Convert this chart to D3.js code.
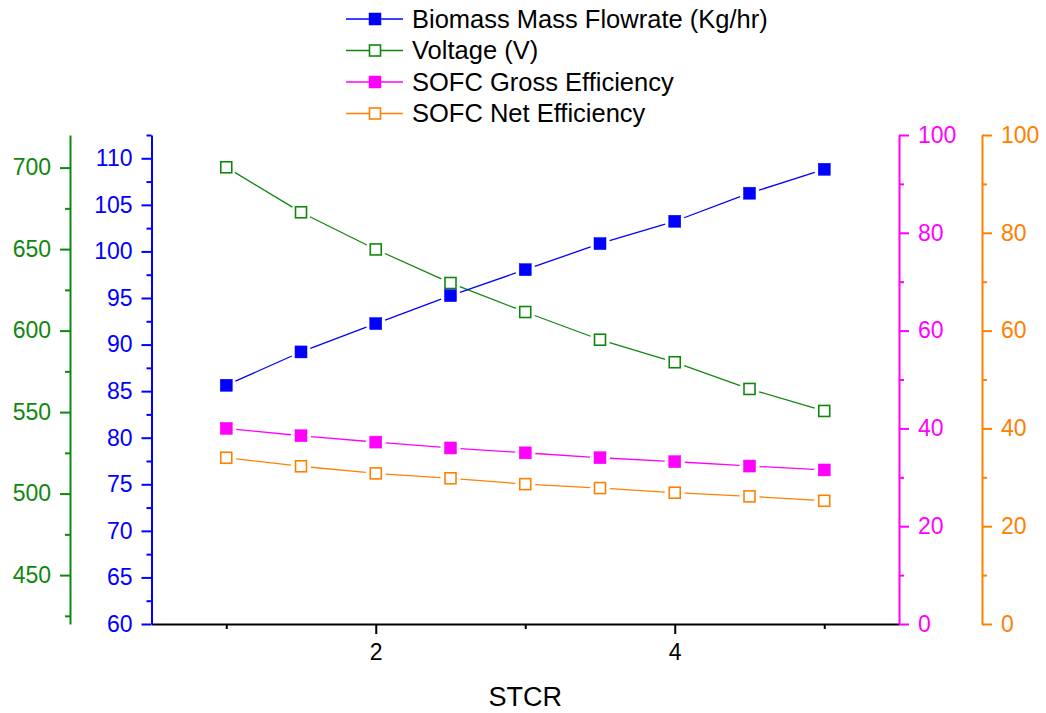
<!DOCTYPE html>
<html>
<head>
<meta charset="utf-8">
<script src="https://cdn.jsdelivr.net/npm/d3@7"></script>
<style>
  html, body { margin: 0; padding: 0; background: #fff; }
  svg { display: block; font-family: "Liberation Sans", Arial, sans-serif; }
</style>
</head>
<body>
<svg id="chart" width="1046" height="713"></svg>
<script>
// STCR values (x)
const stcr = [1, 1.5, 2, 2.5, 3, 3.5, 4, 4.5, 5];
// Series values
const biomassFlow = [85.63, 89.21, 92.25, 95.25, 98.04, 100.84, 103.24, 106.25, 108.82];
const voltage = [700.2, 672.6, 649.8, 629.2, 611.4, 594.4, 580.6, 564.2, 550.7];
const grossEff = [40.0, 38.5, 37.2, 36.0, 35.0, 34.0, 33.2, 32.3, 31.5];
const netEff = [34.0, 32.25, 30.8, 29.8, 28.6, 27.8, 26.85, 26.1, 25.2];

// Tick labels
const xTicks = [2, 4];
const biomassTicks = [60, 65, 70, 75, 80, 85, 90, 95, 100, 105, 110];
const voltageTicks = [450, 500, 550, 600, 650, 700];
const effTicks = [0, 20, 40, 60, 80, 100];

const legendLabels = ["Biomass Mass Flowrate (Kg/hr)", "Voltage (V)", "SOFC Gross Efficiency", "SOFC Net Efficiency"];

const BLUE = "#0000ff", GREEN = "#0f870f", MAGENTA = "#ff00ff", ORANGE = "#ff8000";

const svg = d3.select("#chart");
const plotTop = 135, plotBottom = 624;

const x = d3.scaleLinear().domain([0.5, 5.5]).range([151.5, 899]);
const yBio = d3.scaleLinear().domain([60, 112.5]).range([plotBottom, plotTop]);
const yVolt = d3.scaleLinear().domain([420, 720]).range([plotBottom, plotTop]);
const yEff = d3.scaleLinear().domain([0, 100]).range([plotBottom, plotTop]);

function styleAxis(g, color, fontSize) {
  g.select(".domain").attr("stroke", color).attr("stroke-width", 2);
  g.selectAll(".tick line").attr("stroke", color).attr("stroke-width", 2);
  g.selectAll(".tick text").attr("fill", color).attr("font-size", fontSize)
    .attr("font-family", "Liberation Sans, Arial, sans-serif");
}

function minorAxis(axisFn, scale, values, transformAttr, color) {
  const g = svg.append("g").attr("transform", transformAttr);
  g.call(axisFn(scale).tickValues(values).tickSize(5).tickFormat(""));
  g.select(".domain").remove();
  g.selectAll(".tick line").attr("stroke", color).attr("stroke-width", 2);
}

// X axis
const gx = svg.append("g").attr("transform", `translate(0,${plotBottom})`)
  .call(d3.axisBottom(x).tickValues(xTicks).tickSize(10).tickSizeOuter(0).tickPadding(10).tickFormat(d3.format("d")));
styleAxis(gx, "#000", 23);
minorAxis(d3.axisBottom, x, [1, 3, 5], `translate(0,${plotBottom})`, "#000");

svg.append("text").attr("x", x(3)).attr("y", 706).attr("text-anchor", "middle")
  .attr("font-size", 27).text("STCR");

// Biomass axis (blue)
const gBio = svg.append("g").attr("transform", `translate(${x(0.5)},0)`)
  .call(d3.axisLeft(yBio).tickValues(biomassTicks).tickSize(10).tickSizeOuter(0).tickPadding(9));
styleAxis(gBio, BLUE, 23);
minorAxis(d3.axisLeft, yBio, d3.range(62.5, 113, 5), `translate(${x(0.5)},0)`, BLUE);

// Voltage axis (green)
const gVolt = svg.append("g").attr("transform", "translate(70,0)")
  .call(d3.axisLeft(yVolt).tickValues(voltageTicks).tickSize(10).tickSizeOuter(0).tickPadding(9));
styleAxis(gVolt, GREEN, 23);
minorAxis(d3.axisLeft, yVolt, d3.range(425, 720, 50), "translate(70,0)", GREEN);

// Gross efficiency axis (magenta)
const gGross = svg.append("g").attr("transform", `translate(${x(5.5)},0)`)
  .call(d3.axisRight(yEff).tickValues(effTicks).tickSize(10).tickSizeOuter(0).tickPadding(9));
styleAxis(gGross, MAGENTA, 23);
minorAxis(d3.axisRight, yEff, d3.range(10, 100, 20), `translate(${x(5.5)},0)`, MAGENTA);

// Net efficiency axis (orange)
const gNet = svg.append("g").attr("transform", "translate(982,0)")
  .call(d3.axisRight(yEff).tickValues(effTicks).tickSize(10).tickSizeOuter(0).tickPadding(9));
styleAxis(gNet, ORANGE, 23);
minorAxis(d3.axisRight, yEff, d3.range(10, 100, 20), "translate(982,0)", ORANGE);

// Series: connecting segments with a small gap around each marker
const GAP = 10;
function drawSeries(values, yScale, color, filled) {
  const pts = stcr.map((s, i) => [x(s), yScale(values[i])]);
  const g = svg.append("g");
  for (let i = 0; i < pts.length - 1; i++) {
    const [x1, y1] = pts[i], [x2, y2] = pts[i + 1];
    const dx = x2 - x1, dy = y2 - y1, len = Math.hypot(dx, dy);
    const ux = dx / len, uy = dy / len;
    g.append("line")
      .attr("x1", x1 + ux * GAP).attr("y1", y1 + uy * GAP)
      .attr("x2", x2 - ux * GAP).attr("y2", y2 - uy * GAP)
      .attr("stroke", color).attr("stroke-width", 1.3);
  }
  const s = filled ? 12 : 11;
  g.selectAll("rect").data(pts).join("rect")
    .attr("x", d => d[0] - s / 2).attr("y", d => d[1] - s / 2)
    .attr("width", s).attr("height", s)
    .attr("fill", filled ? color : "#fff")
    .attr("stroke", color).attr("stroke-width", filled ? 0.5 : 1.6);
}

drawSeries(voltage, yVolt, GREEN, false);
drawSeries(biomassFlow, yBio, BLUE, true);
drawSeries(netEff, yEff, ORANGE, false);
drawSeries(grossEff, yEff, MAGENTA, true);

// Legend
const legendColors = [BLUE, GREEN, MAGENTA, ORANGE];
const legendFilled = [true, false, true, false];
const lg = svg.append("g");
legendLabels.forEach((label, i) => {
  const cy = 19 + i * 31.5;
  lg.append("line").attr("x1", 346).attr("x2", 403).attr("y1", cy).attr("y2", cy)
    .attr("stroke", legendColors[i]).attr("stroke-width", 1.3);
  const s = legendFilled[i] ? 12 : 11;
  lg.append("rect").attr("x", 375 - s / 2).attr("y", cy - s / 2).attr("width", s).attr("height", s)
    .attr("fill", legendFilled[i] ? legendColors[i] : "#fff")
    .attr("stroke", legendColors[i]).attr("stroke-width", legendFilled[i] ? 0.5 : 1.6);
  lg.append("text").attr("x", 412).attr("y", cy + 8.5).attr("font-size", 25.5)
    .attr("fill", "#000").text(label);
});
</script>
</body>
</html>
